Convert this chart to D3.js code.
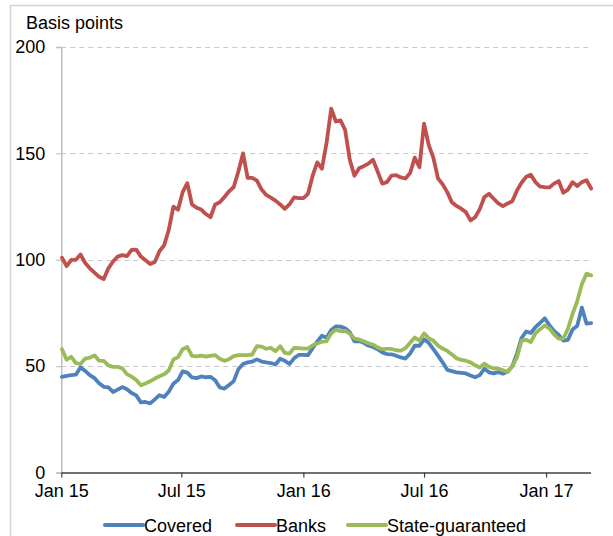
<!DOCTYPE html>
<html>
<head>
<meta charset="utf-8">
<script src="https://cdn.jsdelivr.net/npm/d3@7"></script>
<style>
  html, body { margin: 0; padding: 0; background: #fff; }
  svg { display: block; font-family: "Liberation Sans", Arial, sans-serif; }
</style>
</head>
<body>
<svg id="chart" width="613" height="536"></svg>
<script>
// Weekly spread observations (basis points), first week ending 2 Jan 2015
const firstWeek = "2015-01-02";

const covered = [
  45, 45.5, 45.8, 46, 49.5, 47.8, 45.8, 44.4, 42, 40.3,
  40, 37.9, 39, 40.2, 39.2, 37.4, 36.3, 33, 33.2, 32.5,
  34.4, 36.4, 35.5, 38, 41.8, 43.5, 47.6, 47, 44.7, 44.4,
  45.2, 44.8, 45, 43.4, 40, 39.5, 41.2, 43, 48.6, 51,
  51.8, 52.2, 53.2, 52.2, 51.8, 51.5, 50.8, 53.5, 52.6, 51,
  53.7, 55.3, 55.3, 55.2, 58.5, 61.6, 64.3, 63.4, 67, 68.7,
  68.6, 67.8, 66, 61.7, 61.8, 61, 59.7, 59, 58, 56.5,
  55.7, 55.6, 54.9, 54.1, 53.6, 56, 59.6, 59.6, 62.6, 61,
  58, 55, 51.8, 48.3, 47.7, 47.1, 46.9, 46.6, 45.6, 44.8,
  45.8, 48.8, 47.1, 46.6, 47.2, 46.5, 47.5, 49.9, 55.8, 63.2,
  66.3, 65.6, 68.4, 70.4, 72.5, 69.3, 66.6, 64.7, 62, 62.4,
  67.3, 69, 77.5, 70, 70.2
];

const banks = [
  101, 97, 100, 100, 102.5, 98.5, 96, 94, 92, 91,
  96, 99.2, 101.5, 102.2, 101.7, 104.7, 104.8, 101.5, 99.8, 98,
  99, 104, 106.8, 114, 125, 123.5, 131.8, 136, 126, 124.5,
  123.6, 121.5, 120, 126, 127, 129.5, 132.2, 134.2, 141.5, 150,
  138.5, 138.5, 137.2, 133, 130.5, 129.2, 127.8, 126, 124, 126,
  129.3, 129, 129, 131, 139.5, 145.8, 142.8, 155, 171, 165,
  165.5, 161, 147, 139.5, 143, 144, 145.2, 147, 141.5, 135.8,
  136.5, 139.6, 139.8, 138.7, 138.2, 140.8, 148, 143.5, 164, 154,
  148, 138.3, 135.5, 131.8, 127, 125.3, 124, 122.4, 118.5, 120,
  123.8, 129.5, 131, 128.7, 126.5, 125.2, 126.5, 127.5, 132.5, 136.2,
  139, 140, 136.5, 134.4, 134.1, 134, 135.8, 137, 131.5, 133,
  136.5, 134.7, 136.5, 137.4, 133.5
];

const stateGuaranteed = [
  58, 53.1, 54.4, 51.5, 51, 53.6, 54, 55.1, 52.6, 52.5,
  50.4, 49.7, 49.7, 49, 46.3, 45.1, 43.5, 41, 41.9, 42.9,
  44.2, 45.3, 46.2, 48, 53.2, 54.2, 58, 59, 54.9, 54.6,
  55, 54.5, 54.9, 55.2, 53.5, 52.5, 53.3, 54.7, 55.2, 55.2,
  55.2, 55.5, 59.4, 59.2, 58.2, 58.6, 57, 59.4, 56.3, 55.9,
  58.6, 58.5, 58.3, 58.3, 59.8, 60.7, 61.5, 61.7, 65.5, 67.1,
  66.5, 66.6, 65.3, 63, 62.6, 61.7, 60.8, 60.1, 58.8, 58,
  58.1, 58.1, 57.5, 57.3, 58.5, 61, 63.5, 62, 65.4, 63.2,
  62, 59.7, 58.3, 57.2, 55.5, 53.7, 53, 52.6, 51.8, 50.4,
  49.4, 51.2, 49.7, 48.9, 48.9, 48.1, 47.3, 50, 54, 62,
  62.4, 61.3, 65.5, 67.4, 69.1, 67.8, 65, 63, 63, 67.6,
  74.6, 80.6, 88.5, 93.5, 92.7
];

const seriesNames = ["Covered", "Banks", "State-guaranteed"];
const seriesColors = ["#4f81bd", "#c0504d", "#9bbb59"];
const yTicks = [0, 50, 100, 150, 200];
const yUnit = "Basis points";

const svg = d3.select("#chart");
const parse = d3.timeParse("%Y-%m-%d");
const start = parse(firstWeek);
const weekDate = i => d3.timeDay.offset(start, 7 * i);

const x = d3.scaleTime()
  .domain([new Date(2015, 0, 1), new Date(2017, 2, 9)])
  .range([61.3, 590.5]);
const y = d3.scaleLinear().domain([0, 200]).range([472.6, 47]);

// outer panel edge
svg.append("path")
  .attr("d", "M10.5,536 V5.5 H613")
  .attr("fill", "none")
  .attr("stroke", "#d4d4d4")
  .attr("stroke-width", 1.5);

// horizontal dashed gridlines
svg.append("g")
  .selectAll("line")
  .data(yTicks.filter(d => d > 0))
  .join("line")
  .attr("x1", x.range()[0])
  .attr("x2", x.range()[1])
  .attr("y1", d => Math.round(y(d)) + 0.5)
  .attr("y2", d => Math.round(y(d)) + 0.5)
  .attr("stroke", "#c8c8c8")
  .attr("stroke-width", 1.2)
  .attr("stroke-dasharray", "5,4");

// y axis
const yAxis = svg.append("g")
  .attr("transform", `translate(${x.range()[0]},0)`)
  .call(d3.axisLeft(y).tickValues(yTicks).tickSize(5).tickPadding(11));
yAxis.select(".domain").attr("stroke", "#bfbfbf").attr("stroke-width", 1.5);
yAxis.selectAll(".tick line").attr("stroke", "#bfbfbf").attr("stroke-width", 1.2);
yAxis.selectAll(".tick text")
  .attr("font-size", 18)
  .attr("font-family", "Liberation Sans, Arial, sans-serif")
  .attr("fill", "#000");

// x axis
const xAxis = svg.append("g")
  .attr("transform", `translate(0,${y(0)})`)
  .call(d3.axisBottom(x)
    .ticks(d3.timeMonth.every(6))
    .tickFormat(d3.timeFormat("%b %y"))
    .tickSize(5)
    .tickSizeOuter(0)
    .tickPadding(7));
xAxis.select(".domain").attr("stroke", "#404040").attr("stroke-width", 1.5);
xAxis.selectAll(".tick line").attr("stroke", "#404040").attr("stroke-width", 1.2);
xAxis.selectAll(".tick text")
  .attr("font-size", 18)
  .attr("font-family", "Liberation Sans, Arial, sans-serif")
  .attr("fill", "#000");

// unit label
svg.append("text")
  .attr("x", 26)
  .attr("y", 28.5)
  .attr("font-size", 18)
  .attr("fill", "#000")
  .text(yUnit);

// series lines
const line = d3.line()
  .x((d, i) => x(weekDate(i)))
  .y(d => y(d));

const allSeries = [covered, banks, stateGuaranteed];
svg.append("g")
  .selectAll("path")
  .data(allSeries)
  .join("path")
  .attr("d", d => line(d))
  .attr("fill", "none")
  .attr("stroke", (d, i) => seriesColors[i])
  .attr("stroke-width", 3.8)
  .attr("stroke-linejoin", "round")
  .attr("stroke-linecap", "round");

// legend
const legendX = [105, 237, 348];
const legend = svg.append("g")
  .selectAll("g")
  .data(seriesNames)
  .join("g")
  .attr("transform", (d, i) => `translate(${legendX[i]},525)`);
legend.append("line")
  .attr("x1", 0).attr("x2", 38)
  .attr("y1", 0).attr("y2", 0)
  .attr("stroke", (d, i) => seriesColors[i])
  .attr("stroke-width", 4)
  .attr("stroke-linecap", "round");
legend.append("text")
  .attr("x", 39)
  .attr("y", 6.5)
  .attr("font-size", 18)
  .attr("fill", "#000")
  .text(d => d);
</script>
</body>
</html>
